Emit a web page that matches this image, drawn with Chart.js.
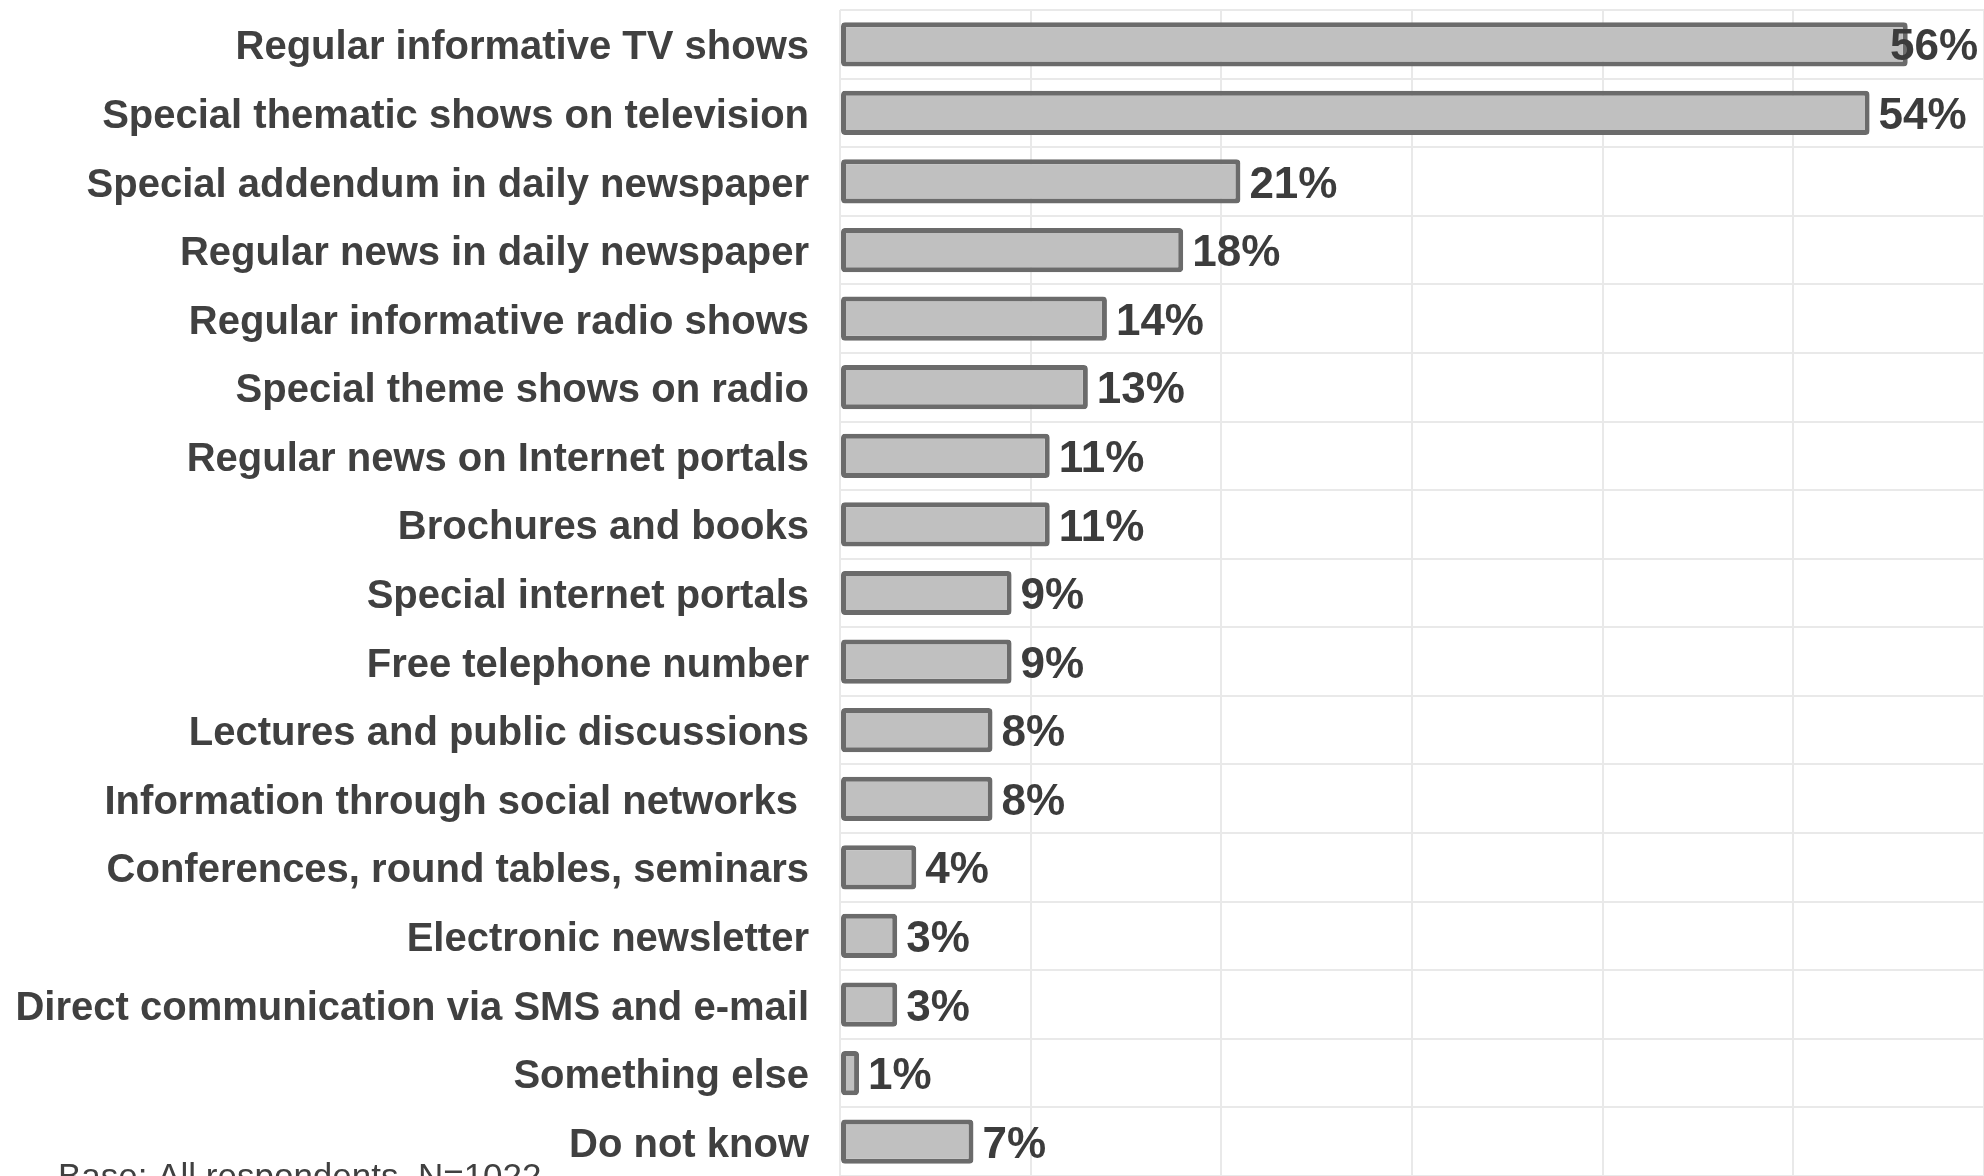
<!DOCTYPE html>
<html>
<head>
<meta charset="utf-8">
<script src="https://cdn.jsdelivr.net/npm/chart.js@4.4.1/dist/chart.umd.min.js"></script>
<style>
  html, body { margin: 0; padding: 0; background: #fff; overflow: hidden; }
  #chart { display: block; }
</style>
</head>
<body>
<canvas id="chart" width="1984" height="1176"></canvas>
<script>
// ── Data ──────────────────────────────────────────────────
const categories = [
  "Regular informative TV shows",
  "Special thematic shows on television",
  "Special addendum in daily newspaper",
  "Regular news in daily newspaper",
  "Regular informative radio shows",
  "Special theme shows on radio",
  "Regular news on Internet portals",
  "Brochures and books",
  "Special internet portals",
  "Free telephone number",
  "Lectures and public discussions",
  "Information through social networks ",
  "Conferences, round tables, seminars",
  "Electronic newsletter",
  "Direct communication via SMS and e-mail",
  "Something else",
  "Do not know"
];
const shares = [56, 54, 21, 18, 14, 13, 11, 11, 9, 9, 8, 8, 4, 3, 3, 1, 7];
const axisMax = 60;
const axisStep = 10;
const baseNote = "Base: All respondents, N=1022";

const TEXT = "#404040";
const FONT = "'Liberation Sans', Arial, sans-serif";

// ── Value labels at bar ends (kept inside the canvas) ─────
const valueLabels = {
  id: "valueLabels",
  afterDatasetsDraw(chart) {
    const ctx = chart.ctx;
    const meta = chart.getDatasetMeta(0);
    ctx.save();
    ctx.font = `bold 44px ${FONT}`;
    ctx.fillStyle = "#3c3c3c";
    ctx.textBaseline = "middle";
    ctx.textAlign = "left";
    meta.data.forEach((bar, i) => {
      const text = `${shares[i]}%`;
      const w = ctx.measureText(text).width;
      let x = bar.x + 9;
      if (x + w > chart.width - 6) x = chart.width - 6 - w;
      ctx.fillText(text, x, bar.y + 4);
    });
    ctx.restore();
  }
};

// ── Footnote, partly cut by the bottom edge ───────────────
const footnote = {
  id: "footnote",
  afterDraw(chart) {
    const ctx = chart.ctx;
    ctx.save();
    ctx.font = `35px ${FONT}`;
    ctx.fillStyle = TEXT;
    ctx.textBaseline = "alphabetic";
    ctx.fillText(baseNote, 58, 1188);
    ctx.restore();
  }
};

new Chart(document.getElementById("chart"), {
  type: "bar",
  data: {
    labels: categories,
    datasets: [{
      data: shares,
      backgroundColor: "#c0c0c0",
      borderColor: "#6b6b6b",
      borderWidth: 5,
      borderRadius: 4,
      borderSkipped: false,
      categoryPercentage: 1,
      barPercentage: 0.645
    }]
  },
  options: {
    indexAxis: "y",
    responsive: false,
    animation: false,
    layout: { padding: { top: 10, right: 0, bottom: 0, left: 0 } },
    plugins: {
      legend: { display: false },
      tooltip: { enabled: false }
    },
    scales: {
      x: {
        min: 0,
        max: axisMax,
        border: { display: false },
        grid: { color: "#e9e9e9", lineWidth: 2, drawTicks: false },
        afterFit: (scale) => { scale.height = 0; },
        ticks: { display: false, stepSize: axisStep }
      },
      y: {
        border: { display: false },
        grid: { color: "#e9e9e9", lineWidth: 2, drawTicks: false, offset: true },
        afterFit: (scale) => {
          scale.width = 840;
          scale.paddingTop = 0;
          scale.paddingBottom = 0;
        },
        ticks: {
          autoSkip: false,
          padding: 31,
          labelOffset: 4,
          color: TEXT,
          font: { family: FONT, size: 40, weight: "bold" }
        }
      }
    }
  },
  plugins: [valueLabels, footnote]
});
</script>
</body>
</html>
